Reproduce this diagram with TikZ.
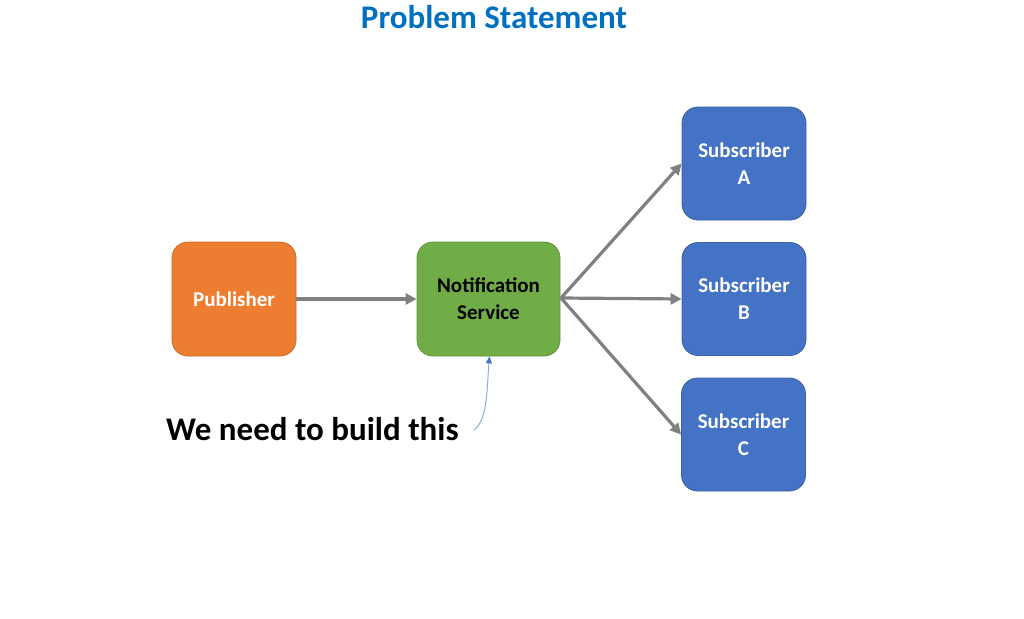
\documentclass[tikz,border=0pt]{standalone}
\usepackage{fontspec}
\setmainfont{Carlito}
\usetikzlibrary{arrows.meta}
\definecolor{porange}{HTML}{ED7D31}
\definecolor{pgreen}{HTML}{70AD47}
\definecolor{pblue}{HTML}{4472C4}
\definecolor{ptitle}{HTML}{0070C0}
\definecolor{pgray}{HTML}{808080}
\definecolor{plight}{HTML}{8FAADC}
\tikzset{
  boxbase/.style={rounded corners=16pt, inner sep=0pt, align=center,
    font=\fontsize{21}{27}\selectfont\bfseries, line width=0.8pt},
  pubbox/.style={boxbase, fill=porange, draw=porange!85!black, text=white, minimum width=124pt, minimum height=114pt},
  notbox/.style={boxbase, fill=pgreen, draw=pgreen!85!black, text=black, minimum width=143pt, minimum height=114pt},
  subbox/.style={boxbase, fill=pblue, draw=pblue!85!black, text=white, minimum width=124pt, minimum height=113pt},
  flow/.style={draw=pgray, line width=3.2pt, -{Triangle[length=11pt,width=11pt]}},
}
\begin{document}
\begin{tikzpicture}[x=1pt,y=-1pt]
\useasboundingbox (0,0) rectangle (1024,618);
\node[font=\fontsize{33}{38}\selectfont\bfseries, text=ptitle] (title) at (494,17) {Problem Statement};
\node[pubbox] (pub) at (234,299) {Publisher};
\node[notbox] (ns) at (488.5,299) {Notification\\Service};
\node[subbox] (sa) at (744,163.5) {Subscriber\\A};
\node[subbox] (sb) at (744,299) {Subscriber\\B};
\node[subbox] (sc) at (743.5,434.5) {Subscriber\\C};
\node[font=\fontsize{33}{38}\selectfont\bfseries, anchor=west, inner sep=0pt] (need) at (166,429) {We need to build this};
\coordinate (fan) at (561,298);
\draw[flow] (pub.east) -- (ns.west);
\draw[flow] (fan) -- (sa.west);
\draw[flow] (fan) -- (sb.west);
\draw[flow] (fan) -- (sc.west);
\coordinate (lstart) at (474,430);
\draw[draw=plight, line width=1pt, -{Triangle[length=7pt,width=6pt,fill=pblue,color=pblue]}] (lstart) .. controls (488,420) and (487,385) .. ([xshift=1pt]ns.south);
\end{tikzpicture}
\end{document}
